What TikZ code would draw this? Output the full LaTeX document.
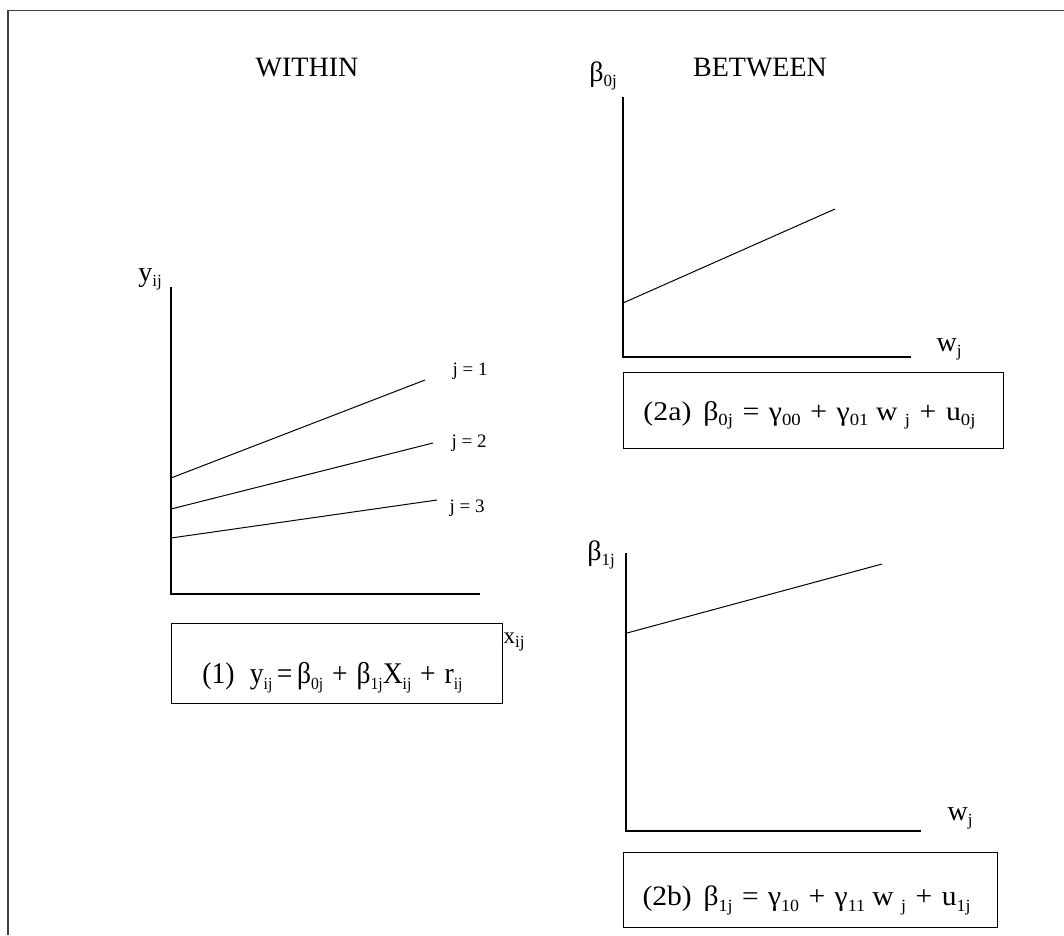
\documentclass[tikz,border=0pt]{standalone}
\usepackage{graphicx}
\usepackage{fontspec}
\setmainfont{Liberation Serif}
\newcommand\subx[1]{\raisebox{-0.2em}{\fontsize{17}{17}\selectfont #1}}
\newcommand\opx[1]{\hspace{0.32em}#1\hspace{0.32em}}
\tikzset{
  ax/.style={line width=1.3pt},
  ln/.style={line width=1pt},
  frame/.style={line width=1.3pt, draw=black!75},
  eqbox/.style={draw, line width=1pt, inner xsep=0pt, inner ysep=0pt, anchor=north west},
  lab/.style={font=\fontsize{28}{30}\selectfont, inner sep=0pt, anchor=base},
  head/.style={font=\fontsize{28}{30}\selectfont, inner sep=0pt, anchor=base},
  jlab/.style={font=\fontsize{19}{21}\selectfont, inner sep=0pt, anchor=base},
}
\begin{document}
\begin{tikzpicture}[x=1pt,y=-1pt]
\useasboundingbox (0,0) rectangle (1064,935);
% outer frame (top and left)
\coordinate (fTR) at (1064,10.5);
\coordinate (fTL) at (8,10.5);
\coordinate (fBL) at (8,935);
\draw[frame] (fTR) -- (fTL) -- (fBL);
% headings
\node[head] (within) at (307,76) {WITHIN};
\node[head] (between) at (760,76) {BETWEEN};
% ---- left plot
\coordinate (LO) at (171,594);
\coordinate (LT) at (171,287);
\coordinate (LR) at (480,594);
\draw[ax] (LT) -- (LO) -- (LR);
\node[lab] (ylab) at (150,281) {y\subx{ij}};
\coordinate (a1) at (171,478); \coordinate (b1) at (425,380);
\coordinate (a2) at (171,509); \coordinate (b2) at (433,443);
\coordinate (a3) at (171,538); \coordinate (b3) at (437,500);
\draw[ln] (a1) -- (b1);
\draw[ln] (a2) -- (b2);
\draw[ln] (a3) -- (b3);
\node[jlab] (j1) at (470,375) {j = 1};
\node[jlab] (j2) at (469,447) {j = 2};
\node[jlab] (j3) at (467,512) {j = 3};
\node[eqbox, minimum width=331pt, text height=60pt, text depth=20pt] (eq1) at (171,623)
  {\fontsize{30}{32}\selectfont\resizebox{260pt}{\height}{(1)\hspace{0.55em}y\subx{ij}\,=\,β\subx{0j}\opx{+}β\subx{1j}X\subx{ij}\opx{+}r\subx{ij}}\hspace*{9pt}};
\node[font=\fontsize{23}{25}\selectfont, inner sep=0pt, anchor=base] (xlab) at (514,643) {x\subx{ij}};
% ---- right top plot
\coordinate (TO) at (623,357);
\coordinate (TT) at (623,97);
\coordinate (TR) at (911,357);
\draw[ax] (TT) -- (TO) -- (TR);
\node[lab] (b0lab) at (603,81) {β\subx{0j}};
\coordinate (c1) at (623,303); \coordinate (d1) at (835,209);
\draw[ln] (c1) -- (d1);
\node[lab] (wlab1) at (949,351) {w\subx{j}};
\node[eqbox, minimum width=380pt, text height=48pt, text depth=28pt] (eq2a) at (623,372)
  {\fontsize{27}{29}\selectfont\resizebox{332pt}{\height}{(2a)\hspace{0.4em}β\subx{0j}\opx{=}γ\subx{00}\opx{+}γ\subx{01} w \subx{j}\opx{+}u\subx{0j}}\hspace*{8pt}};
% ---- right bottom plot
\coordinate (BO) at (626,831);
\coordinate (BT) at (626,553);
\coordinate (BR) at (921,831);
\draw[ax] (BT) -- (BO) -- (BR);
\node[lab] (b1lab) at (601,560) {β\subx{1j}};
\coordinate (e1) at (627,633); \coordinate (f1) at (882,564);
\draw[ln] (e1) -- (f1);
\node[lab] (wlab2) at (960,820) {w\subx{j}};
\node[eqbox, minimum width=374pt, text height=53pt, text depth=22pt] (eq2b) at (623,852)
  {\fontsize{28}{30}\selectfont\resizebox{328pt}{\height}{(2b)\hspace{0.4em}β\subx{1j}\opx{=}γ\subx{10}\opx{+}γ\subx{11} w \subx{j}\opx{+}u\subx{1j}}\hspace*{8pt}};
\end{tikzpicture}
\end{document}
